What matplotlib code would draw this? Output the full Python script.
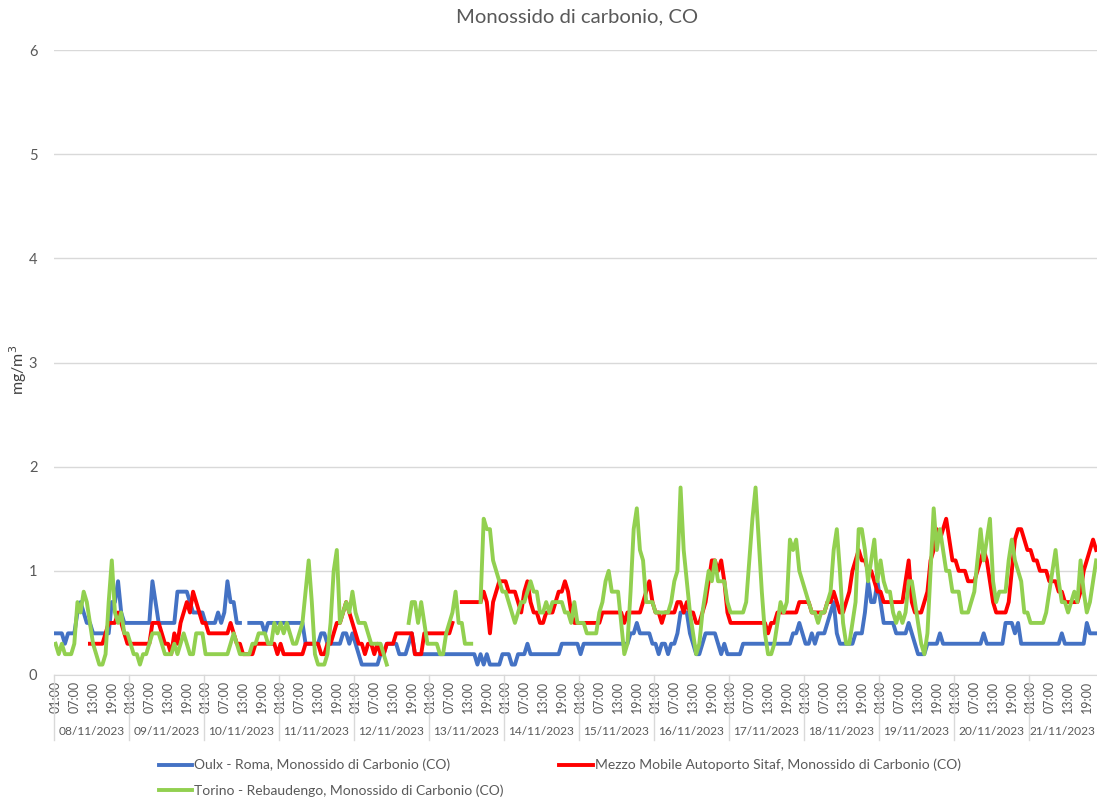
import numpy as np
import matplotlib
matplotlib.use("Agg")
import matplotlib.pyplot as plt
from matplotlib.transforms import blended_transform_factory

plt.rcParams['font.family'] = ['Lato', 'DejaVu Sans']

nan = np.nan

# dates (one block of 24 hourly values per day, 01:00 .. 24:00)
days = ['08/11/2023', '09/11/2023', '10/11/2023', '11/11/2023', '12/11/2023',
        '13/11/2023', '14/11/2023', '15/11/2023', '16/11/2023', '17/11/2023',
        '18/11/2023', '19/11/2023', '20/11/2023', '21/11/2023']
hour_labels = ['01:00', '07:00', '13:00', '19:00']

# Oulx - Roma
oulx = [
    0.4, 0.4, 0.4, 0.3, 0.4, 0.4, 0.4, 0.6, 0.7, 0.6, 0.5, 0.5, 0.4, 0.4, 0.4, 0.4, 0.4, 0.4, 0.7, 0.7, 0.9, 0.6, 0.5, 0.5,
    0.5, 0.5, 0.5, 0.5, 0.5, 0.5, 0.5, 0.9, 0.7, 0.5, 0.5, 0.5, 0.5, 0.5, 0.5, 0.8, 0.8, 0.8, 0.8, 0.7, 0.6, 0.6, 0.6, 0.6,
    0.5, 0.5, 0.5, 0.5, 0.6, 0.5, 0.6, 0.9, 0.7, 0.7, 0.5, 0.5, nan, nan, 0.5, 0.5, 0.5, 0.5, 0.5, 0.4, 0.5, 0.5, 0.5, 0.5,
    0.5, 0.5, 0.5, 0.5, 0.5, 0.5, 0.5, 0.5, 0.3, 0.3, 0.3, 0.3, 0.3, 0.4, 0.4, 0.3, 0.3, 0.3, 0.3, 0.3, 0.4, 0.4, 0.3, 0.4,
    0.3, 0.2, 0.1, 0.1, 0.1, 0.1, 0.1, 0.1, 0.2, 0.2, 0.3, 0.3, 0.3, 0.3, 0.2, 0.2, 0.2, 0.3, 0.4, 0.2, 0.2, 0.2, 0.2, 0.2,
    0.2, 0.2, 0.2, 0.2, 0.2, 0.2, 0.2, 0.2, 0.2, 0.2, 0.2, 0.2, 0.2, 0.2, 0.2, 0.1, 0.2, 0.1, 0.2, 0.1, 0.1, 0.1, 0.1, 0.2,
    0.2, 0.2, 0.1, 0.1, 0.2, 0.2, 0.2, 0.3, 0.2, 0.2, 0.2, 0.2, 0.2, 0.2, 0.2, 0.2, 0.2, 0.2, 0.3, 0.3, 0.3, 0.3, 0.3, 0.3,
    0.2, 0.3, 0.3, 0.3, 0.3, 0.3, 0.3, 0.3, 0.3, 0.3, 0.3, 0.3, 0.3, 0.3, 0.3, 0.3, 0.4, 0.4, 0.5, 0.4, 0.4, 0.4, 0.4, 0.3,
    0.3, 0.2, 0.3, 0.3, 0.2, 0.3, 0.3, 0.4, 0.6, 0.6, 0.6, 0.4, 0.3, 0.2, 0.2, 0.3, 0.4, 0.4, 0.4, 0.4, 0.3, 0.2, 0.3, 0.2,
    0.2, 0.2, 0.2, 0.2, 0.3, 0.3, 0.3, 0.3, 0.3, 0.3, 0.3, 0.3, 0.3, 0.3, 0.3, 0.3, 0.3, 0.3, 0.3, 0.3, 0.4, 0.4, 0.5, 0.4,
    0.3, 0.3, 0.4, 0.3, 0.4, 0.4, 0.4, 0.5, 0.6, 0.7, 0.4, 0.3, 0.3, 0.3, 0.3, 0.3, 0.4, 0.4, 0.4, 0.6, 0.9, 0.7, 0.7, 0.9,
    0.7, 0.5, 0.5, 0.5, 0.5, 0.4, 0.4, 0.4, 0.4, 0.5, 0.4, 0.3, 0.2, 0.2, 0.2, 0.3, 0.3, 0.3, 0.3, 0.4, 0.3, 0.3, 0.3, 0.3,
    0.3, 0.3, 0.3, 0.3, 0.3, 0.3, 0.3, 0.3, 0.3, 0.4, 0.3, 0.3, 0.3, 0.3, 0.3, 0.3, 0.5, 0.5, 0.5, 0.4, 0.5, 0.3, 0.3, 0.3,
    0.3, 0.3, 0.3, 0.3, 0.3, 0.3, 0.3, 0.3, 0.3, 0.3, 0.4, 0.3, 0.3, 0.3, 0.3, 0.3, 0.3, 0.3, 0.5, 0.4, 0.4, 0.4,
]

# Mezzo Mobile Autoporto Sitaf
sitaf = [
    nan, nan, nan, nan, nan, nan, nan, nan, nan, nan, nan, 0.3, 0.3, 0.3, 0.3, 0.3, 0.4, 0.5, 0.5, 0.5, 0.6, 0.5, 0.4, 0.3,
    0.3, 0.3, 0.3, 0.3, 0.3, 0.3, 0.3, 0.5, 0.5, 0.5, 0.4, 0.3, 0.3, 0.2, 0.4, 0.3, 0.5, 0.6, 0.7, 0.6, 0.8, 0.7, 0.6, 0.5,
    0.5, 0.4, 0.4, 0.4, 0.4, 0.4, 0.4, 0.4, 0.5, 0.4, 0.3, 0.3, 0.2, 0.2, 0.2, 0.2, 0.3, 0.3, 0.3, 0.3, 0.3, 0.3, 0.3, 0.2,
    0.3, 0.2, 0.2, 0.2, 0.2, 0.2, 0.2, 0.2, 0.3, 0.3, 0.3, 0.3, 0.3, 0.2, 0.2, 0.3, 0.3, 0.4, 0.5, 0.5, 0.6, 0.7, 0.6, 0.5,
    0.4, 0.3, 0.3, 0.2, 0.3, 0.3, 0.2, 0.3, 0.2, 0.2, 0.3, 0.3, 0.3, 0.4, 0.4, 0.4, 0.4, 0.4, 0.4, 0.2, 0.2, 0.2, 0.4, 0.4,
    0.4, 0.4, 0.4, 0.4, 0.4, 0.4, 0.4, 0.5, nan, nan, 0.7, 0.7, 0.7, 0.7, 0.7, 0.7, 0.7, 0.8, 0.7, 0.4, 0.7, 0.8, 0.9, 0.9,
    0.9, 0.8, 0.8, 0.8, 0.7, 0.6, 0.8, 0.9, 0.7, 0.6, 0.6, 0.5, 0.5, 0.6, 0.6, 0.6, 0.7, 0.8, 0.8, 0.9, 0.8, 0.6, 0.5, 0.5,
    0.5, 0.5, 0.5, 0.5, 0.5, 0.5, 0.5, 0.6, 0.6, 0.6, 0.6, 0.6, 0.6, 0.6, 0.5, 0.6, 0.6, 0.6, 0.6, 0.6, 0.7, 0.8, 0.9, 0.7,
    0.6, 0.6, 0.5, 0.6, 0.6, 0.6, 0.6, 0.7, 0.7, 0.6, 0.7, 0.6, 0.6, 0.5, 0.5, 0.6, 0.7, 0.9, 1.1, 1.1, 1.0, 1.1, 0.9, 0.6,
    0.5, 0.5, 0.5, 0.5, 0.5, 0.5, 0.5, 0.5, 0.5, 0.5, 0.5, 0.5, 0.4, 0.5, 0.5, 0.6, 0.6, 0.6, 0.6, 0.6, 0.6, 0.6, 0.7, 0.7,
    0.7, 0.7, 0.6, 0.6, 0.6, 0.6, 0.6, 0.7, 0.7, 0.8, 0.7, 0.6, 0.6, 0.7, 0.8, 1.0, 1.1, 1.2, 1.1, 1.1, 1.0, 1.0, 0.9, 0.8,
    0.8, 0.7, 0.7, 0.7, 0.7, 0.7, 0.7, 0.7, 0.9, 1.1, 0.7, 0.6, 0.6, 0.6, 0.7, 0.8, 1.1, 1.2, 1.4, 1.3, 1.4, 1.5, 1.3, 1.1,
    1.1, 1.0, 1.0, 1.0, 0.9, 0.9, 0.9, 1.0, 1.1, 1.2, 1.1, 0.9, 0.7, 0.6, 0.6, 0.6, 0.6, 0.7, 1.0, 1.3, 1.4, 1.4, 1.3, 1.2,
    1.2, 1.1, 1.1, 1.0, 1.0, 1.0, 0.9, 0.9, 0.9, 0.8, 0.8, 0.7, 0.7, 0.7, 0.7, 0.7, 0.8, 1.0, 1.1, 1.2, 1.3, 1.2,
]

# Torino - Rebaudengo
torino = [
    0.3, 0.2, 0.3, 0.2, 0.2, 0.2, 0.3, 0.7, 0.6, 0.8, 0.7, 0.5, 0.3, 0.2, 0.1, 0.1, 0.2, 0.7, 1.1, 0.6, 0.5, 0.6, 0.4, 0.4,
    0.3, 0.2, 0.2, 0.1, 0.2, 0.2, 0.3, 0.4, 0.4, 0.4, 0.3, 0.2, 0.2, 0.2, 0.3, 0.2, 0.3, 0.4, 0.3, 0.2, 0.2, 0.4, 0.4, 0.4,
    0.2, 0.2, 0.2, 0.2, 0.2, 0.2, 0.2, 0.2, 0.3, 0.4, 0.3, 0.2, 0.2, 0.2, 0.2, 0.3, 0.3, 0.4, 0.4, 0.4, 0.3, 0.3, 0.5, 0.4,
    0.5, 0.4, 0.5, 0.4, 0.3, 0.3, 0.4, 0.5, 0.8, 1.1, 0.7, 0.2, 0.1, 0.1, 0.1, 0.2, 0.5, 1.0, 1.2, 0.5, 0.6, 0.7, 0.6, 0.8,
    0.6, 0.5, 0.5, 0.5, 0.4, 0.3, 0.3, 0.3, 0.3, 0.2, 0.1, nan, nan, nan, nan, nan, nan, 0.5, 0.7, 0.7, 0.5, 0.7, 0.5, 0.3,
    0.3, 0.3, 0.3, 0.2, 0.2, 0.4, 0.5, 0.6, 0.8, 0.5, 0.5, 0.3, 0.3, 0.3, nan, nan, 0.7, 1.5, 1.4, 1.4, 1.1, 1.0, 0.9, 0.8,
    0.8, 0.7, 0.6, 0.5, 0.6, 0.7, 0.7, 0.8, 0.9, 0.8, 0.8, 0.6, 0.6, 0.7, 0.6, 0.7, 0.7, 0.7, 0.7, 0.6, 0.6, 0.5, 0.7, 0.5,
    0.5, 0.5, 0.4, 0.4, 0.4, 0.4, 0.6, 0.7, 0.9, 1.0, 0.8, 0.8, 0.8, 0.5, 0.2, 0.3, 0.8, 1.4, 1.6, 1.2, 1.1, 0.7, 0.7, 0.7,
    0.6, 0.6, 0.6, 0.6, 0.6, 0.7, 0.9, 1.0, 1.8, 1.2, 0.9, 0.6, 0.4, 0.2, 0.3, 0.6, 0.8, 1.0, 0.9, 1.1, 0.9, 0.9, 0.9, 0.7,
    0.6, 0.6, 0.6, 0.6, 0.6, 0.7, 1.1, 1.5, 1.8, 1.3, 0.8, 0.4, 0.2, 0.2, 0.3, 0.5, 0.7, 0.6, 0.7, 1.3, 1.2, 1.3, 1.0, 0.9,
    0.8, 0.7, 0.6, 0.6, 0.5, 0.6, 0.6, 0.7, 0.8, 1.2, 1.4, 1.0, 0.5, 0.3, 0.3, 0.5, 0.7, 1.4, 1.4, 1.2, 0.9, 1.1, 1.3, 0.9,
    1.1, 0.9, 0.8, 0.8, 0.6, 0.5, 0.6, 0.5, 0.6, 0.9, 0.9, 0.7, 0.5, 0.3, 0.2, 0.4, 1.0, 1.6, 1.2, 1.4, 1.2, 1.0, 1.0, 0.8,
    0.8, 0.8, 0.6, 0.6, 0.6, 0.7, 0.8, 1.1, 1.4, 1.1, 1.3, 1.5, 0.9, 0.7, 0.8, 0.8, 0.8, 1.1, 1.3, 1.1, 1.0, 0.9, 0.6, 0.6,
    0.5, 0.5, 0.5, 0.5, 0.5, 0.6, 0.8, 1.0, 1.2, 0.9, 0.7, 0.7, 0.6, 0.7, 0.8, 0.7, 1.1, 0.8, 0.6, 0.7, 0.9, 1.1,
]

labels = ['Oulx - Roma, Monossido di Carbonio (CO)',
          'Mezzo Mobile Autoporto Sitaf, Monossido di Carbonio (CO)',
          'Torino - Rebaudengo, Monossido di Carbonio (CO)']
colors = ['#4472C4', '#FF0000', '#92D050']

grey = '#595959'
light = '#D9D9D9'

fig = plt.figure(figsize=(10.97, 8), dpi=100)
ax = fig.add_axes([54 / 1097, 125 / 800, 1 - 54 / 1097, 625 / 800])

handles = []
for vals, lab, col in zip([oulx, sitaf, torino], labels, colors):
    x = np.arange(len(vals))
    h, = ax.plot(x, vals, color=col, lw=2.8, solid_joinstyle='round', label=lab)
    handles.append(h)

xmax = 333.26
ax.set_ylim(0, 6)
ax.set_xlim(-0.5, xmax)
ax.set_yticks(range(7))
ax.yaxis.grid(True, color=light, lw=1)
ax.set_axisbelow(True)
for s in ['top', 'right', 'left']:
    ax.spines[s].set_visible(False)
ax.spines['bottom'].set_color(light)
ax.tick_params(axis='y', length=0, pad=12, labelsize=10.5, labelcolor=grey)

pos = []
lab = []
for d in range(len(days)):
    for k, hl in enumerate(hour_labels):
        pos.append(d * 24 + k * 6)
        lab.append(hl)
ax.set_xticks(pos)
ax.set_xticklabels(lab, rotation=90, fontsize=9, color=grey)
ax.tick_params(axis='x', length=0, pad=4)

tr = blended_transform_factory(ax.transData, ax.transAxes)
for d, name in enumerate(days):
    # the last day is cut by the right edge, keep its label inside
    xc = min(d * 24 + 11.5, xmax - 11.0)
    ax.text(xc, -0.09, name, transform=tr, ha='center', va='center',
            fontsize=8.6, color=grey, clip_on=False)
for d in range(len(days) + 1):
    ax.plot([d * 24 - 0.5, d * 24 - 0.5], [0, -0.104], transform=tr, color=light,
            lw=1, clip_on=False)

fig.text(577 / 1097, 1 - 17 / 800, 'Monossido di carbonio, CO', ha='center', va='center',
         fontsize=14.6, color=grey)
fig.text(18 / 1097, 1 - 370 / 800, 'mg/m$^3$', rotation=90, ha='center', va='center',
         fontsize=11.5, color='#404040')

fig.legend([handles[0], handles[2], handles[1]], [labels[0], labels[2], labels[1]],
           loc='upper left', bbox_to_anchor=(152 / 1097, 1 - 752 / 800), ncol=2,
           frameon=False, fontsize=10, labelcolor=grey, handlelength=2.4,
           handletextpad=0.15, columnspacing=4.0, labelspacing=0.95, borderpad=0)

fig.savefig('out.png', dpi=100)
